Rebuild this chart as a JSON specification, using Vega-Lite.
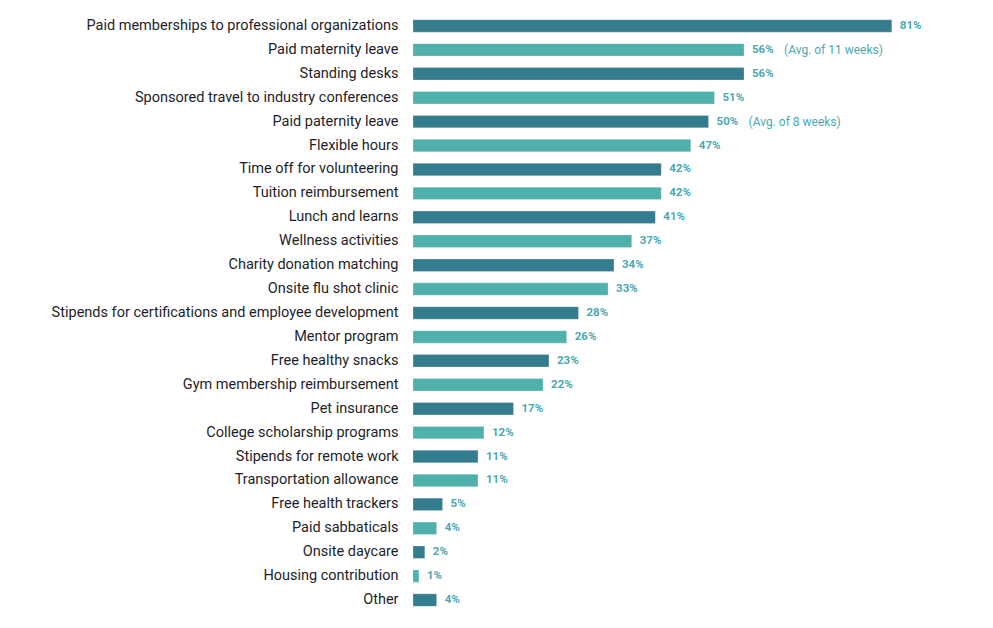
{
  "$schema": "https://vega.github.io/schema/vega-lite/v6.json",
  "autosize": {"type": "none"},
  "padding": {"left": 413, "top": 14, "right": 0, "bottom": 0},
  "width": 532,
  "height": 598,
  "background": "white",
  "config": {"view": {"stroke": null}, "font": "Roboto"},
  "data": {"values": [
    {"benefit": "Paid memberships to professional organizations", "pct": 81, "label": "81%", "shade": "dark", "note": ""},
    {"benefit": "Paid maternity leave", "pct": 56, "label": "56%", "shade": "light", "note": "(Avg. of 11 weeks)"},
    {"benefit": "Standing desks", "pct": 56, "label": "56%", "shade": "dark", "note": ""},
    {"benefit": "Sponsored travel to industry conferences", "pct": 51, "label": "51%", "shade": "light", "note": ""},
    {"benefit": "Paid paternity leave", "pct": 50, "label": "50%", "shade": "dark", "note": "(Avg. of 8 weeks)"},
    {"benefit": "Flexible hours", "pct": 47, "label": "47%", "shade": "light", "note": ""},
    {"benefit": "Time off for volunteering", "pct": 42, "label": "42%", "shade": "dark", "note": ""},
    {"benefit": "Tuition reimbursement", "pct": 42, "label": "42%", "shade": "light", "note": ""},
    {"benefit": "Lunch and learns", "pct": 41, "label": "41%", "shade": "dark", "note": ""},
    {"benefit": "Wellness activities", "pct": 37, "label": "37%", "shade": "light", "note": ""},
    {"benefit": "Charity donation matching", "pct": 34, "label": "34%", "shade": "dark", "note": ""},
    {"benefit": "Onsite flu shot clinic", "pct": 33, "label": "33%", "shade": "light", "note": ""},
    {"benefit": "Stipends for certifications and employee development", "pct": 28, "label": "28%", "shade": "dark", "note": ""},
    {"benefit": "Mentor program", "pct": 26, "label": "26%", "shade": "light", "note": ""},
    {"benefit": "Free healthy snacks", "pct": 23, "label": "23%", "shade": "dark", "note": ""},
    {"benefit": "Gym membership reimbursement", "pct": 22, "label": "22%", "shade": "light", "note": ""},
    {"benefit": "Pet insurance", "pct": 17, "label": "17%", "shade": "dark", "note": ""},
    {"benefit": "College scholarship programs", "pct": 12, "label": "12%", "shade": "light", "note": ""},
    {"benefit": "Stipends for remote work", "pct": 11, "label": "11%", "shade": "dark", "note": ""},
    {"benefit": "Transportation allowance", "pct": 11, "label": "11%", "shade": "light", "note": ""},
    {"benefit": "Free health trackers", "pct": 5, "label": "5%", "shade": "dark", "note": ""},
    {"benefit": "Paid sabbaticals", "pct": 4, "label": "4%", "shade": "light", "note": ""},
    {"benefit": "Onsite daycare", "pct": 2, "label": "2%", "shade": "dark", "note": ""},
    {"benefit": "Housing contribution", "pct": 1, "label": "1%", "shade": "light", "note": ""},
    {"benefit": "Other", "pct": 4, "label": "4%", "shade": "dark", "note": ""}
  ]},
  "encoding": {
    "y": {"field": "benefit", "type": "nominal", "sort": null,
      "scale": {"paddingInner": 0.48, "paddingOuter": 0.24},
      "axis": {"title": null, "domain": false, "ticks": false, "labelPadding": 15, "labelFontSize": 14.5, "labelColor": "#1e1e28", "labelFont": "Roboto", "labelFontWeight": "normal", "labelLimit": 500}},
    "x": {"field": "pct", "type": "quantitative", "scale": {"domain": [0, 90]}, "axis": null}
  },
  "layer": [
    {"mark": {"type": "bar", "stroke": "#ffffff", "strokeOpacity": 0.25, "strokeWidth": 1},
     "encoding": {"color": {"field": "shade", "type": "nominal", "scale": {"domain": ["dark", "light"], "range": ["#357c8e", "#50b0ac"]}, "legend": null}}},
    {"mark": {"type": "text", "align": "left", "dx": 8, "fontSize": 11.5, "fontWeight": "bold", "color": "#4aa8b0", "font": "Roboto"},
     "encoding": {"text": {"field": "label"}}},
    {"mark": {"type": "text", "align": "left", "dx": 40, "fontSize": 12, "fontWeight": "normal", "color": "#4aa8b0", "font": "Roboto"},
     "encoding": {"text": {"field": "note"}}}
  ]
}
